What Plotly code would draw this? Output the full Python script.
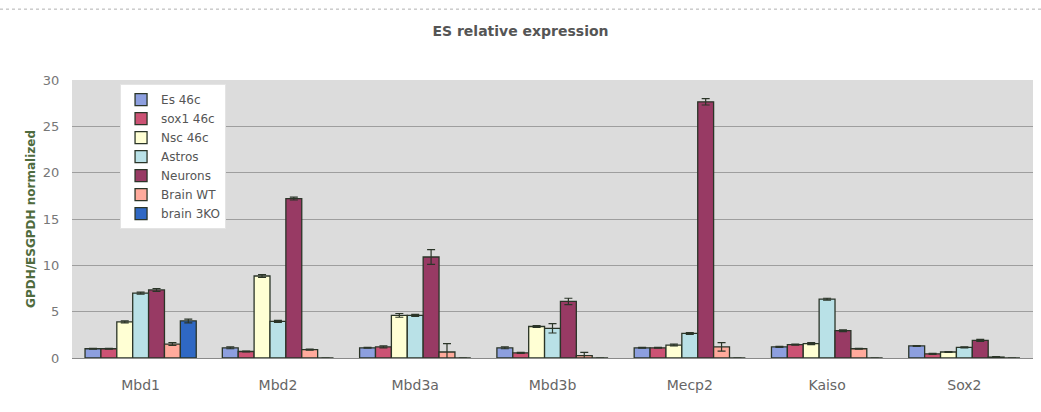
import plotly.graph_objects as go

genes = ["Mbd1", "Mbd2", "Mbd3a", "Mbd3b", "Mecp2", "Kaiso", "Sox2"]

es_46c = [1.0, 1.1, 1.1, 1.1, 1.1, 1.2, 1.3]
sox1_46c = [1.0, 0.7, 1.2, 0.55, 1.1, 1.45, 0.45]
nsc_46c = [3.9, 8.85, 4.6, 3.4, 1.4, 1.55, 0.65]
astros = [7.0, 3.95, 4.6, 3.2, 2.65, 6.35, 1.15]
neurons = [7.35, 17.2, 10.9, 6.1, 27.65, 2.95, 1.9]
brain_wt = [1.5, 0.9, 0.65, 0.25, 1.2, 1.0, 0.1]
brain_3ko = [4.0, 0, 0, 0, 0, 0, 0]

es_err = [0.05, 0.1, 0.05, 0.1, 0.05, 0.05, 0.05]
sox1_err = [0.05, 0.05, 0.1, 0.05, 0.05, 0.05, 0.05]
nsc_err = [0.1, 0.15, 0.2, 0.1, 0.1, 0.1, 0.05]
astros_err = [0.1, 0.1, 0.1, 0.5, 0.1, 0.1, 0.05]
neurons_err = [0.15, 0.15, 0.8, 0.35, 0.35, 0.1, 0.1]
brain_wt_err = [0.15, 0.05, 0.9, 0.35, 0.45, 0.05, 0.05]
brain_3ko_err = [0.2, 0, 0, 0, 0, 0, 0]

series = [
    ("Es 46c", es_46c, es_err, "#8d9fdf"),
    ("sox1 46c", sox1_46c, sox1_err, "#cc5274"),
    ("Nsc 46c", nsc_46c, nsc_err, "#ffffd4"),
    ("Astros", astros, astros_err, "#b9e1e7"),
    ("Neurons", neurons, neurons_err, "#983a64"),
    ("Brain WT", brain_wt, brain_wt_err, "#ffaa9c"),
    ("brain 3KO", brain_3ko, brain_3ko_err, "#2f68c4"),
]

fig = go.Figure()
for name, vals, errs, color in series:
    fig.add_trace(go.Bar(
        name=name,
        x=genes,
        y=vals,
        marker=dict(color=color, line=dict(color="#2b3528", width=1.3)),
        error_y=dict(type="data", array=errs, visible=True,
                     color="#2b3528", thickness=1.2, width=4),
    ))

fig.update_layout(
    width=1041,
    height=412,
    barmode="group",
    bargap=0.19,
    bargroupgap=0,
    paper_bgcolor="white",
    plot_bgcolor="#dcdcdc",
    margin=dict(l=72, r=8, t=80, b=54),
    font=dict(family="DejaVu Sans, Liberation Sans, sans-serif", color="#666666"),
    title=dict(
        text="<b>ES relative expression</b>",
        x=0.5, xanchor="center", y=0.925, yanchor="middle",
        font=dict(size=14, color="#555555"),
    ),
    legend=dict(
        x=0.05, y=0.985, xanchor="left", yanchor="top",
        bgcolor="white", bordercolor="#e4e4e4", borderwidth=1,
        font=dict(size=12, color="#555555"),
        tracegroupgap=0, itemwidth=30,
    ),
    xaxis=dict(
        showgrid=False,
        showline=True, linecolor="#8a8a8a", linewidth=1,
        ticks="outside", ticklen=14, tickcolor="rgba(0,0,0,0)",
        tickfont=dict(size=14, color="#666666"),
    ),
    yaxis=dict(
        range=[0, 30],
        tickvals=[0, 5, 10, 15, 20, 25, 30],
        showgrid=True, gridcolor="#9e9e9e", gridwidth=1,
        zeroline=False,
        ticks="outside", ticklen=9, tickcolor="rgba(0,0,0,0)",
        tickfont=dict(size=13, color="#777777"),
        title=dict(
            text="<b>GPDH/ESGPDH normalized</b>",
            font=dict(size=12, color="#4f6b3e"),
            standoff=4,
        ),
    ),
    shapes=[dict(
        type="line", xref="paper", yref="paper",
        x0=-72 / 961, x1=969 / 961, y0=(358.5 - 9) / 278.5, y1=(358.5 - 9) / 278.5,
        line=dict(color="#b0b0b0", width=1, dash="dot"),
    )],
)

fig.write_html("out.html")
